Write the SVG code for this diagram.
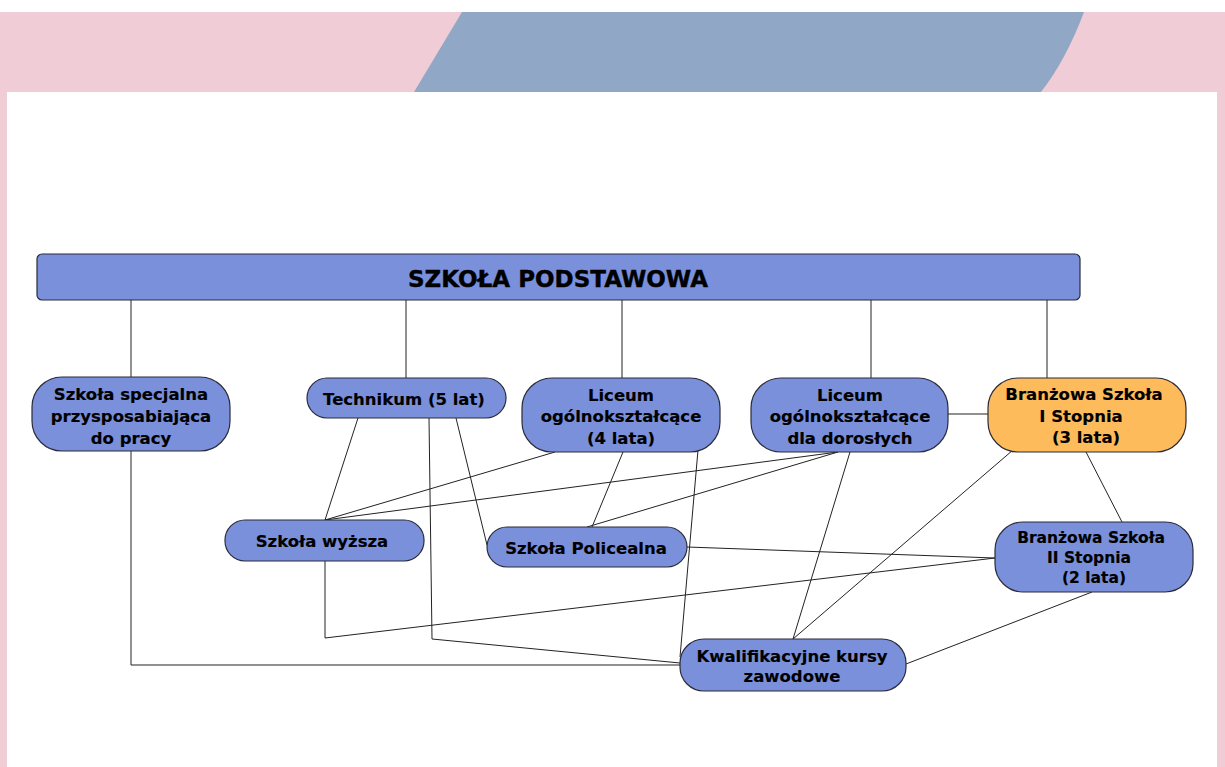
<svg xmlns="http://www.w3.org/2000/svg" width="1225" height="767" viewBox="0 0 1225 767">
<style>
.n{fill:#7A90DB;stroke:#2b2b3a;stroke-width:1.2}
.o{fill:#FDBB5B;stroke:#2b2b3a;stroke-width:1.2}
.t{font-family:"DejaVu Sans","Liberation Sans",sans-serif;font-weight:bold;font-size:16.5px;fill:#000;stroke:#000;stroke-width:0.15;text-anchor:middle}
.s{font-size:15.5px}
.c line,.c polyline{stroke:#222;stroke-width:1;fill:none}
</style>
<rect x="0" y="0" width="1225" height="767" fill="#ffffff"/>
<rect x="0" y="12" width="1225" height="755" fill="#EFCCD6"/>
<path d="M462,12 L1084,12 Q1066,60 1041,92 L414,92 Z" fill="#91A7C6"/>
<rect x="7" y="92" width="1210" height="675" fill="#ffffff"/>
<g class="c" id="connectors">
<line x1="131" y1="300" x2="131" y2="377"/>
<line x1="406" y1="300" x2="406" y2="378"/>
<line x1="622" y1="300" x2="622" y2="378"/>
<line x1="871" y1="300" x2="871" y2="378"/>
<line x1="1047" y1="300" x2="1047" y2="378"/>
<polyline points="131,451 131,665 680,665"/>
<line x1="358" y1="418" x2="325" y2="520"/>
<polyline points="429,418 432,639 680,663"/>
<line x1="456" y1="418" x2="487" y2="545"/>
<line x1="555" y1="452" x2="325" y2="520"/>
<line x1="623" y1="452" x2="592" y2="527"/>
<line x1="698" y1="450" x2="680" y2="657"/>
<line x1="838" y1="452" x2="325" y2="520"/>
<line x1="838" y1="452" x2="587" y2="527"/>
<line x1="850" y1="452" x2="793" y2="639"/>
<line x1="948" y1="414" x2="988" y2="414"/>
<line x1="1013" y1="450" x2="793" y2="639"/>
<line x1="1086" y1="452" x2="1122" y2="522"/>
<line x1="687" y1="547" x2="995" y2="558"/>
<polyline points="325,561 325,638 995,558"/>
<line x1="1092" y1="592" x2="906" y2="664"/>
</g>
<g id="szkola-podstawowa">
<rect x="37" y="254" width="1043" height="46" rx="5" class="n"/>
<text x="558" y="287" class="t" style="font-size:23px;stroke-width:0.4">SZKOŁA PODSTAWOWA</text>
</g>
<g id="szkola-specjalna">
<rect x="32" y="377" width="198" height="74" rx="30" class="n"/>
<text x="131" y="400" class="t">Szkoła specjalna</text>
<text x="131" y="422" class="t">przysposabiająca</text>
<text x="131" y="444" class="t">do pracy</text>
</g>
<g id="technikum">
<rect x="307" y="378" width="199" height="40" rx="20" class="n"/>
<text x="404" y="405" class="t">Technikum (5 lat)</text>
</g>
<g id="liceum-4">
<rect x="522" y="378" width="198" height="74" rx="30" class="n"/>
<text x="621" y="401" class="t">Liceum</text>
<text x="621" y="422" class="t">ogólnokształcące</text>
<text x="621" y="444" class="t">(4 lata)</text>
</g>
<g id="liceum-doroslych">
<rect x="751" y="378" width="197" height="74" rx="30" class="n"/>
<text x="850" y="401" class="t">Liceum</text>
<text x="850" y="422" class="t">ogólnokształcące</text>
<text x="850" y="444" class="t">dla dorosłych</text>
</g>
<g id="branzowa-1">
<rect x="988" y="378" width="198" height="74" rx="30" class="o"/>
<text x="1084" y="400" class="t">Branżowa Szkoła</text>
<text x="1081" y="422" class="t">I Stopnia</text>
<text x="1086" y="443" class="t">(3 lata)</text>
</g>
<g id="szkola-wyzsza">
<rect x="225" y="520" width="199" height="41" rx="20" class="n"/>
<text x="322" y="547" class="t">Szkoła wyższa</text>
</g>
<g id="szkola-policealna">
<rect x="487" y="527" width="200" height="40" rx="20" class="n"/>
<text x="586" y="554" class="t">Szkoła Policealna</text>
</g>
<g id="branzowa-2">
<rect x="995" y="522" width="198" height="70" rx="28" class="n"/>
<text x="1091" y="543" class="t s">Branżowa Szkoła</text>
<text x="1089" y="563" class="t s">II Stopnia</text>
<text x="1094" y="583" class="t s">(2 lata)</text>
</g>
<g id="kwalifikacyjne">
<rect x="680" y="639" width="226" height="52" rx="24" class="n"/>
<text x="792" y="662" class="t">Kwalifikacyjne kursy</text>
<text x="792" y="682" class="t">zawodowe</text>
</g>
</svg>
